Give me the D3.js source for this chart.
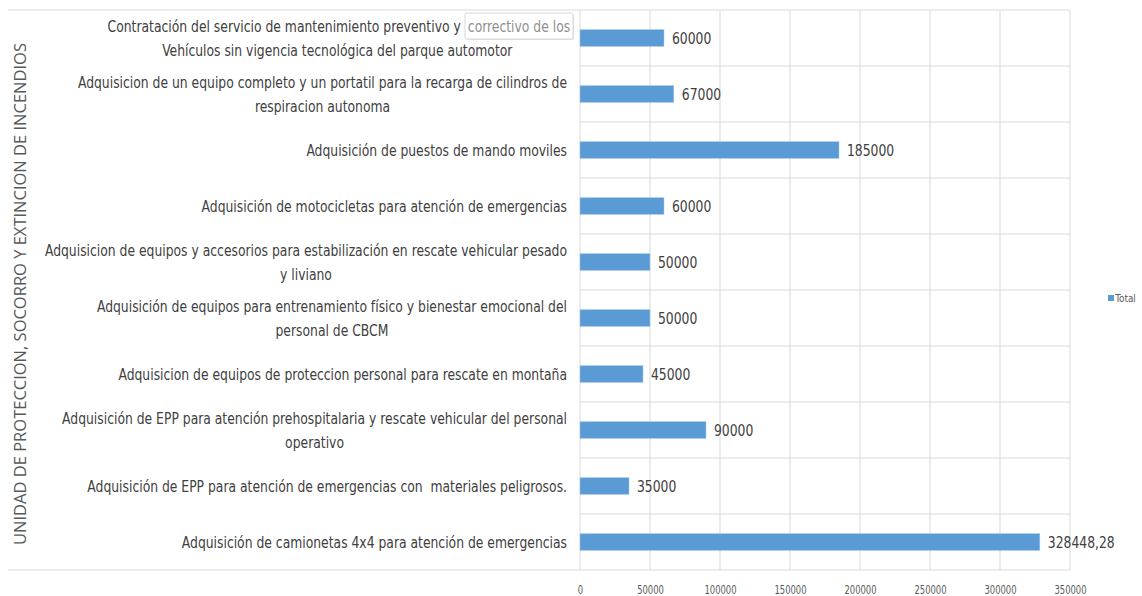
<!DOCTYPE html>
<html>
<head>
<meta charset="utf-8">
<script src="https://cdn.jsdelivr.net/npm/d3@7"></script>
<style>
  html, body { margin: 0; padding: 0; background: #fff; }
  svg { display: block; }
  .cat, .val, .tick text, .legend text { font-family: "DejaVu Sans Condensed", "Liberation Sans Narrow", sans-serif; }
  .cat { white-space: pre; }
</style>
</head>
<body>
<svg id="chart"></svg>
<script>
// categories, top to bottom; "\n" marks where the label wraps
const categories = [
  "Contratación del servicio de mantenimiento preventivo y correctivo de los\nVehículos sin vigencia tecnológica del parque automotor",
  "Adquisicion de un equipo completo y un portatil para la recarga de cilindros de\nrespiracion autonoma",
  "Adquisición de puestos de mando moviles",
  "Adquisición de motocicletas para atención de emergencias",
  "Adquisicion de equipos y accesorios para estabilización en rescate vehicular pesado\ny liviano",
  "Adquisición de equipos para entrenamiento físico y bienestar emocional del\npersonal de CBCM",
  "Adquisicion de equipos de proteccion personal para rescate en montaña",
  "Adquisición de EPP para atención prehospitalaria y rescate vehicular del personal\noperativo",
  "Adquisición de EPP para atención de emergencias con  materiales peligrosos.",
  "Adquisición de camionetas 4x4 para atención de emergencias"
];
const totals = [60000, 67000, 185000, 60000, 50000, 50000, 45000, 90000, 35000, 328448.28];
const xTicks = [0, 50000, 100000, 150000, 200000, 250000, 300000, 350000];
const seriesName = "Total";
const axisTitle = "UNIDAD DE PROTECCION, SOCORRO Y EXTINCION DE INCENDIOS";

const width = 1142, height = 596;
const plotL = 580, plotR = 1070, plotT = 10, plotB = 570;
const gridColor = "#d9d9d9", textColor = "#404040", barColor = "#5b9bd5";
const squeeze = 0.86; // the source font is narrower than anything installed

const svg = d3.select("#chart").attr("width", width).attr("height", height);

const x = d3.scaleLinear().domain([0, 350000]).range([plotL, plotR]);
const y = d3.scaleBand().domain(categories).range([plotT, plotB])
  .paddingInner(0.7).paddingOuter(0.35);
const rows = d3.scaleBand().domain(categories).range([plotT, plotB]);

// vertical grid
svg.append("g")
  .selectAll("line")
  .data(xTicks)
  .join("line")
  .attr("x1", d => x(d)).attr("x2", d => x(d))
  .attr("y1", plotT).attr("y2", plotB)
  .attr("stroke", gridColor);

// horizontal row separators (outer ones run across the label area)
const seps = categories.map(c => rows(c)).concat([plotB]);
svg.append("g")
  .selectAll("line")
  .data(seps)
  .join("line")
  .attr("x1", d => (d === plotT || d === plotB) ? 8 : plotL)
  .attr("x2", plotR)
  .attr("y1", d => d).attr("y2", d => d)
  .attr("stroke", gridColor);

// bars
svg.append("g")
  .selectAll("rect")
  .data(totals)
  .join("rect")
  .attr("x", x(0))
  .attr("y", (d, i) => y(categories[i]))
  .attr("width", d => x(d) - x(0))
  .attr("height", y.bandwidth())
  .attr("fill", barColor)
  .attr("stroke", "#a9c8e8")
  .attr("stroke-width", 0.5);

// value labels
svg.append("g")
  .selectAll("text")
  .data(totals)
  .join("text")
  .attr("class", "val")
  .attr("transform", (d, i) => `translate(${x(d) + 8},${y(categories[i]) + y.bandwidth() / 2}) scale(${squeeze},1)`)
  .attr("dy", "0.35em")
  .attr("font-size", 16)
  .attr("fill", textColor)
  .text(d => String(d).replace(".", ","));

// category labels, right aligned block, lines centred to each other
const labelRight = 567, lineH = 24;
const catG = svg.append("g");
categories.forEach(c => {
  const lines = c.split("\n");
  const cy = rows(c) + rows.bandwidth() / 2;
  const t = catG.append("text")
    .attr("class", "cat")
    .attr("transform", `translate(${labelRight},${cy}) scale(${squeeze},1)`)
    .attr("font-size", 16)
    .attr("fill", textColor)
    .attr("text-anchor", "middle");
  const spans = lines.map((l, k) => t.append("tspan")
    .attr("y", (k - (lines.length - 1) / 2) * lineH)
    .attr("dy", "0.35em")
    .text(l));
  const w = d3.max(spans, s => s.node().getComputedTextLength());
  spans.forEach(s => s.attr("x", -w / 2));
});

// screenshot artefact: little tooltip box over the first label
const tip = svg.append("g").attr("transform", "translate(465,13)");
tip.append("rect").attr("x", 1).attr("y", 1).attr("width", 108).attr("height", 26)
  .attr("rx", 2).attr("fill", "#e6e6e6");
tip.append("rect").attr("width", 108).attr("height", 26).attr("rx", 2)
  .attr("fill", "#fff").attr("stroke", "#d6d6d6");
tip.append("text").attr("class", "cat")
  .attr("transform", `translate(54,13) scale(${squeeze},1)`).attr("dy", "0.35em")
  .attr("text-anchor", "middle").attr("font-size", 16).attr("fill", "#8f8f8f")
  .text("correctivo de los");

// x axis
const xAxis = svg.append("g")
  .attr("transform", `translate(0,${plotB + 12})`)
  .call(d3.axisBottom(x).tickValues(xTicks).tickSize(0).tickFormat(d3.format("d")));
xAxis.select(".domain").remove();
xAxis.selectAll("text").attr("font-size", 12).attr("fill", "#595959")
  .attr("transform", "scale(0.78,1)");

// axis title
svg.append("text")
  .attr("transform", `translate(20,${(plotT + plotB) / 2 + 4}) rotate(-90)`)
  .attr("text-anchor", "middle")
  .attr("dy", "0.35em")
  .attr("font-family", "'Open Sans', sans-serif")
  .attr("font-size", 16.5)
  .attr("fill", "#595959")
  .text(axisTitle);

// legend
const lg = svg.append("g").attr("class", "legend").attr("transform", "translate(1108,298)");
lg.append("rect").attr("x", 0).attr("y", -3).attr("width", 6).attr("height", 6).attr("fill", barColor);
lg.append("text").attr("x", 8).attr("dy", "0.35em").attr("font-size", 11).attr("fill", "#595959")
  .attr("transform", "scale(0.9,1)").text(seriesName);
</script>
</body>
</html>
